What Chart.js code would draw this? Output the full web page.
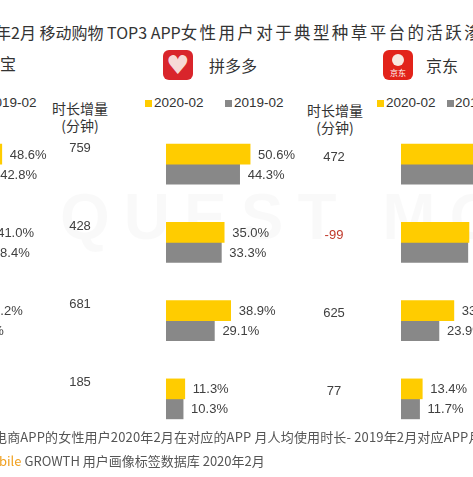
<!DOCTYPE html>
<html>
<head>
<meta charset="utf-8">
<script src="https://cdn.jsdelivr.net/npm/chart.js@4.4.1/dist/chart.umd.min.js"></script>
<style>
  html, body { margin: 0; padding: 0; width: 473px; height: 477px; overflow: hidden; background: #fff; }
  body { position: relative; font-family: "Liberation Sans", "Noto Sans CJK SC", sans-serif; color: #333; }
  .abs { position: absolute; white-space: nowrap; }
  .pre { position: absolute; right: 100%; top: 0; white-space: nowrap; }
  .cjk { font-family: "Noto Sans CJK SC", sans-serif; }
  .sq { position: absolute; width: 7px; height: 7px; }
  .leg { font-size: 13.5px; line-height: 20px; color: #333; }
  .wrap { position: absolute; top: 0; height: 477px; }
  .icon { position: absolute; width: 30px; height: 30px; border-radius: 6px; overflow: hidden; }
</style>
</head>
<body>

<div class="abs" style="left:60px;top:180px;font-size:64px;font-weight:bold;color:rgba(0,0,0,0.025);letter-spacing:14px;font-family:'Liberation Sans',sans-serif;">QUEST MOBILE</div>

<div class="abs cjk" style="left:-5px;top:20px;font-size:16px;line-height:24px;color:#333;"><span class="pre">2020</span>年2月 移动购物 TOP3 APP<span style="letter-spacing:2.4px;font-size:16.5px;">女性用户对于典型种草平台的活跃渗透率</span></div>

<!-- panel headers -->
<div class="abs cjk" style="left:0px;top:51px;font-size:16px;line-height:24px;"><span class="pre">淘</span>宝</div>

<div class="icon" style="left:163px;top:50px;background:#d9252b;">
  <div class="abs" style="left:0;top:1px;width:30px;text-align:center;font:26px 'DejaVu Sans';line-height:28px;color:#f6d9d6;">♥</div>
</div>
<div class="abs cjk" style="left:209px;top:53px;font-size:16px;line-height:24px;">拼多多</div>

<div class="icon" style="left:383px;top:50px;background:#e2231a;">
  <div class="abs" style="left:9px;top:4px;width:12px;height:12px;border-radius:6px;background:#f8e8e0;"></div>
  <div class="abs cjk" style="left:0;top:18px;width:30px;text-align:center;font-size:8px;line-height:10px;color:#fff;">京东</div>
</div>
<div class="abs cjk" style="left:426px;top:53px;font-size:16px;line-height:24px;">京东</div>

<!-- legends -->
<div class="sq" style="left:-21px;top:100px;background:#888888;"></div>
<div class="abs leg" style="left:-13px;top:93px;">2019-02</div>

<div class="sq" style="left:145px;top:100px;background:#FFCC00;"></div>
<div class="abs leg" style="left:154px;top:93px;">2020-02</div>
<div class="sq" style="left:225px;top:100px;background:#888888;"></div>
<div class="abs leg" style="left:234px;top:93px;">2019-02</div>

<div class="sq" style="left:377px;top:100px;background:#FFCC00;"></div>
<div class="abs leg" style="left:386px;top:93px;">2020-02</div>
<div class="sq" style="left:447px;top:100px;background:#888888;"></div>
<div class="abs leg" style="left:455px;top:93px;">2019-02</div>

<!-- increment column headers -->
<div class="abs cjk" style="left:52px;top:98px;font-size:14px;line-height:20px;width:56px;text-align:center;">时长增量</div>
<div class="abs cjk" style="left:52px;top:115px;font-size:14px;line-height:20px;width:56px;text-align:center;">(分钟)</div>
<div class="abs cjk" style="left:307px;top:100px;font-size:14px;line-height:20px;width:56px;text-align:center;">时长增量</div>
<div class="abs cjk" style="left:307px;top:117px;font-size:14px;line-height:20px;width:56px;text-align:center;">(分钟)</div>

<div class="wrap" style="left:-160px;width:214px;"><canvas id="tb"></canvas></div>
<div class="wrap" style="left:40px;width:259px;"><canvas id="pdd"></canvas></div>
<div class="wrap" style="left:300px;width:228px;"><canvas id="jd"></canvas></div>

<!-- footer -->
<div class="abs cjk" style="left:-6px;top:427px;font-size:13px;line-height:20px;color:#555;letter-spacing:0.15px;"><span class="pre">注释：时长增量=移动购物</span>电商APP的女性用户2020年2月在对应的APP 月人均使用时长- 2019年2月对应APP月人均使用时长</div>
<div class="abs cjk" style="left:-1px;top:451px;font-size:13px;line-height:20px;color:#555;"><span class="pre">来源：Quest<span style="color:#f0a020;">Mo</span></span><span style="color:#f0a020;">bile</span> GROWTH 用户画像标签数据库 2020年2月</div>

<script>
// rows are the seeding platforms (their names sit off the visible crop)
const categories = ["抖音", "快手", "微博", "小红书"];
const seriesNames = ["2020-02", "2019-02"];

const taobao2020 = [48.6, 41.0, 34.2, 14.6];
const taobao2019 = [42.8, 38.4, 22.9, 12.1];
const pdd2020 = [50.6, 35.0, 38.9, 11.3];
const pdd2019 = [44.3, 33.3, 29.1, 10.3];
const jd2020 = [58.5, 42.8, 33.3, 13.4];
const jd2019 = [52.6, 42.1, 23.9, 11.7];

// 时长增量 (分钟)
const pddIncrease = [759, 428, 681, 185];
const jdIncrease = [472, -99, 625, 77];

const valueLabels = {
  id: "valueLabels",
  afterDatasetsDraw(chart, args, opts) {
    const ctx = chart.ctx;
    ctx.save();
    ctx.font = "13px 'Liberation Sans', Arial";
    ctx.textBaseline = "middle";
    ctx.fillStyle = "#404040";
    chart.data.datasets.forEach((ds, i) => {
      chart.getDatasetMeta(i).data.forEach((bar, j) => {
        ctx.fillText(ds.data[j].toFixed(1) + "%", bar.x + 8, bar.y + 1);
      });
    });
    if (opts.values) {
      ctx.textAlign = "center";
      opts.values.forEach((v, j) => {
        const y = chart.scales.y.getPixelForValue(j) + opts.dy;
        ctx.fillStyle = v < 0 ? "#C0392B" : "#404040";
        ctx.fillText(String(v), chart.chartArea.left + opts.dx, y);
      });
    }
    ctx.restore();
  },
};

const makePanel = function (id, d2020, d2019, padLeft, inc, dx, dy) {
  const ctx = document.getElementById(id).getContext("2d");
  return new Chart(ctx, {
    type: "bar",
    data: {
      labels: categories,
      datasets: [
        { label: seriesNames[0], data: d2020, backgroundColor: "#FFCC00", barThickness: 20 },
        { label: seriesNames[1], data: d2019, backgroundColor: "#888888", barThickness: 20 },
      ],
    },
    plugins: [valueLabels],
    options: {
      indexAxis: "y",
      responsive: true,
      maintainAspectRatio: false,
      animation: false,
      layout: { padding: { left: padLeft, right: 0, top: 125, bottom: 39 } },
      scales: {
        x: { display: false, min: 0, max: 80 },
        y: { display: false },
      },
      plugins: {
        legend: { display: false },
        tooltip: { enabled: false },
        valueLabels: { values: inc, dx: dx, dy: dy },
      },
    },
  });
};

makePanel("tb", taobao2020, taobao2019, 81, null, 0, 0);
makePanel("pdd", pdd2020, pdd2019, 126, pddIncrease, -86, -16);
makePanel("jd", jd2020, jd2019, 101, jdIncrease, -67, -7);
</script>
</body>
</html>
